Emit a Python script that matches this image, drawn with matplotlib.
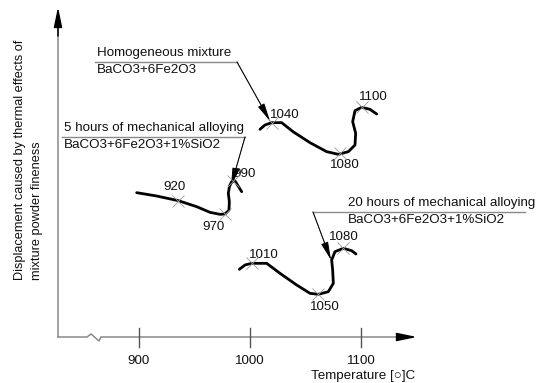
import matplotlib
matplotlib.use('Agg')
import matplotlib.pyplot as plt

plt.rcParams['font.family'] = ['Liberation Sans', 'DejaVu Sans']

# schematic curves: temperature [C] vs displacement (arbitrary units)
homog_t = [1008.9, 1013.4, 1019.4, 1028.4, 1038.6, 1053.9, 1068.9, 1079.4, 1088.4,
           1094.4, 1095.0, 1092.3, 1094.4, 1100.4, 1107.9, 1113.9]
homog_y = [62.0, 63.3, 64.0, 64.0, 61.3, 58.0, 55.3, 54.5, 55.3,
           57.3, 60.8, 64.3, 67.6, 68.6, 68.0, 66.6]
homog_marks = [1040, 1080, 1100]
homog_mark_xy = [(1019.4, 63.8), (1080.9, 54.8), (1100.4, 68.6)]
homog_label_xy = [(1031.4, 66.3), (1085.4, 51.3), (1110.9, 71.8)]

h5_t = [897.9, 915.9, 935.4, 951.9, 963.9, 972.9, 977.4, 981.0, 981.3,
        980.4, 981.5, 983.4, 986.4, 992.4]
h5_y = [43.0, 42.0, 40.6, 38.8, 37.1, 36.5, 36.6, 37.8, 40.3,
        42.8, 45.0, 46.3, 46.5, 43.3]
h5_marks = [920, 970, 990]
h5_mark_xy = [(935.4, 40.6), (977.4, 36.6), (984.6, 46.5)]
h5_label_xy = [(932.4, 44.6), (966.9, 32.8), (995.4, 48.6)]

h20_t = [990.3, 995.4, 1001.4, 1014.9, 1026.9, 1041.9, 1053.9, 1061.4, 1070.4,
         1074.9, 1074.3, 1073.4, 1076.4, 1083.9, 1091.4, 1095.3]
h20_y = [20.0, 21.3, 21.8, 21.8, 18.8, 15.3, 12.8, 12.5, 13.3,
         15.8, 19.8, 22.8, 25.3, 26.3, 25.6, 24.6]
h20_marks = [1010, 1050, 1080]
h20_mark_xy = [(1001.4, 21.8), (1061.4, 12.5), (1083.9, 26.3)]
h20_label_xy = [(1011.9, 24.3), (1067.4, 8.8), (1083.9, 29.8)]

xticks = [900, 1000, 1100]

fig = plt.figure(figsize=(5.37, 3.83), dpi=100)
ax = fig.add_axes([0, 0, 1, 1])
ax.set_xlim(774.9, 1258.2)
ax.set_ylim(-14.1, 100.8)
ax.axis('off')

gray = '#8a8a8a'
txt = '#111111'
fs = 9.6

# axes with break
ax.plot([827.1, 853.2, 856.8, 864.0, 865.8, 1140], [-0.3, -0.3, 0.6, -1.5, -0.3, -0.3],
        color=gray, lw=1.1, solid_joinstyle='miter')
ax.plot([827.1, 827.1], [-0.3, 92], color=gray, lw=1.1)
ax.annotate('', xy=(827.1, 98.7), xytext=(827.1, 90),
            arrowprops=dict(arrowstyle='-|>,head_length=1.2,head_width=0.25',
                            color='black', lw=1.1, shrinkA=0, shrinkB=0))
ax.annotate('', xy=(1150.2, -0.3), xytext=(1135, -0.3),
            arrowprops=dict(arrowstyle='-|>,head_length=1.2,head_width=0.25',
                            color='black', lw=1.1, shrinkA=0, shrinkB=0))
for t in xticks:
    ax.plot([t, t], [-3.3, 2.4], color='#555555', lw=1.0)
    ax.text(t, -7.5, str(t), ha='center', va='center', fontsize=fs, color=txt)
ax.text(1148.4, -12.0, 'Temperature [\u25cb]C', ha='right', va='center', fontsize=fs, color=txt)

ax.text(792.9, 16.8, 'Displacement caused by thermal effects of', rotation=90,
        ha='left', va='center', fontsize=9.2, color=txt, rotation_mode='anchor')
ax.text(808.2, 16.8, 'mixture powder fineness', rotation=90,
        ha='left', va='center', fontsize=9.2, color=txt, rotation_mode='anchor')

# curves
for xs, ys, marks, mxy, lxy in [
        (homog_t, homog_y, homog_marks, homog_mark_xy, homog_label_xy),
        (h5_t, h5_y, h5_marks, h5_mark_xy, h5_label_xy),
        (h20_t, h20_y, h20_marks, h20_mark_xy, h20_label_xy)]:
    ax.plot(xs, ys, color='black', lw=2.0, solid_joinstyle='round', solid_capstyle='round')
    for m, (mx, my), (lx, ly) in zip(marks, mxy, lxy):
        ax.plot(mx, my, marker='x', ms=8, mew=0.6, color='#9a9a9a', zorder=4)
        ax.text(lx, ly, str(m), ha='center', va='center', fontsize=fs, color=txt)

# labels with leaders
def label(x0, y0, line1, line2, ux0, ux1, uy, start, tip):
    ax.text(x0, y0, line1, ha='left', va='center', fontsize=fs, color=txt)
    ax.text(x0, y0 - 5.1, line2, ha='left', va='center', fontsize=fs, color=txt)
    ax.plot([ux0, ux1], [uy, uy], color=gray, lw=1.0)
    ax.annotate('', xy=tip, xytext=start,
                arrowprops=dict(arrowstyle='-|>,head_length=1.1,head_width=0.22',
                                color='black', lw=0.7, shrinkA=0, shrinkB=0))
    ax.plot([start[0], tip[0]], [start[1], tip[1]], color=gray, lw=0.7, zorder=1)

label(862.2, 84.9, 'Homogeneous mixture', 'BaCO3+6Fe2O3',
      860.4, 988.2, 82.2, (988.2, 82.2), (1017.9, 64.5))
label(832.5, 62.4, '5 hours of mechanical alloying', 'BaCO3+6Fe2O3+1%SiO2',
      831.0, 995.4, 59.7, (995.4, 59.7), (982.8, 45.0))
label(1088.1, 39.9, '20 hours of mechanical alloying', 'BaCO3+6Fe2O3+1%SiO2',
      1056.6, 1247.4, 37.2, (1056.6, 37.2), (1072.8, 22.8))

fig.savefig('out.png', dpi=100)
